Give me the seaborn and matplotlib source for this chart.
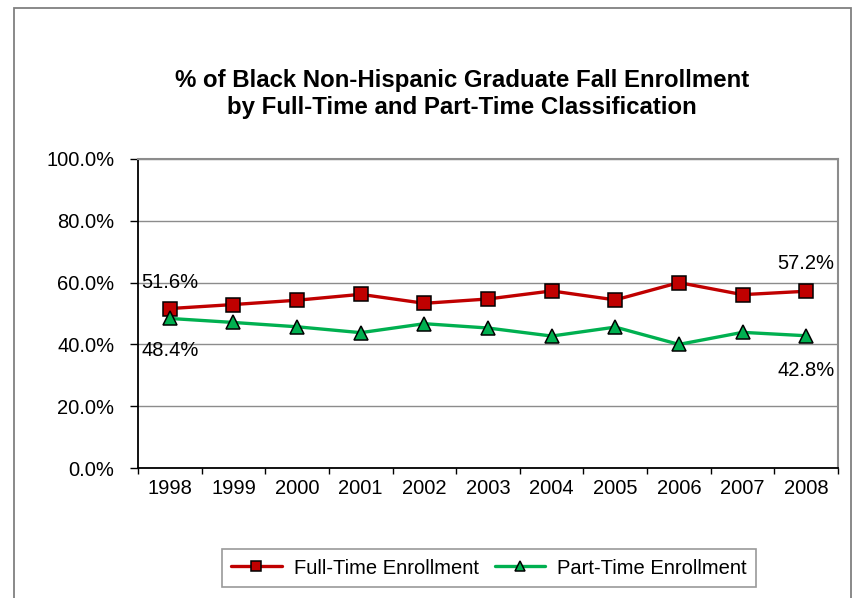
import numpy as np
import pandas as pd
import matplotlib
matplotlib.use("Agg")
import matplotlib.pyplot as plt
import matplotlib.patches as mpatches
from matplotlib.ticker import FuncFormatter, FixedLocator
import seaborn as sns

years = ["1998", "1999", "2000", "2001", "2002", "2003", "2004", "2005", "2006", "2007", "2008"]
full_time = [51.6, 52.9, 54.3, 56.2, 53.3, 54.7, 57.3, 54.4, 60.0, 56.1, 57.2]
part_time = [48.4, 47.1, 45.7, 43.8, 46.7, 45.3, 42.7, 45.6, 40.0, 43.9, 42.8]
series_names = ["Full-Time Enrollment", "Part-Time Enrollment"]
y_ticks = [0, 20, 40, 60, 80, 100]
title = "% of Black Non-Hispanic Graduate Fall Enrollment\nby Full-Time and Part-Time Classification"

sns.set_style("white")
plt.rcParams["font.family"] = ["Liberation Sans", "DejaVu Sans"]
plt.rcParams["text.color"] = "black"
plt.rcParams["xtick.color"] = "black"
plt.rcParams["ytick.color"] = "black"

pos = np.arange(len(years))
df = pd.DataFrame({
    "pos": np.concatenate([pos, pos]),
    "value": full_time + part_time,
    "series": [series_names[0]] * len(years) + [series_names[1]] * len(years),
})

W, H = 860, 598
fig = plt.figure(figsize=(W / 100, H / 100), dpi=100)
ax = fig.add_axes([138 / W, 1 - 468 / H, (838 - 138) / W, (468 - 159) / H])

red = "#C00000"
green = "#00B050"
styles = {
    series_names[0]: dict(color=red, marker="s", ms=9.5),
    series_names[1]: dict(color=green, marker="^", ms=10.5),
}
for name in series_names:
    sub = df[df["series"] == name]
    st = styles[name]
    sns.lineplot(data=sub, x="pos", y="value", ax=ax, color=st["color"], lw=2.4,
                 marker=st["marker"], markersize=st["ms"], markerfacecolor=st["color"],
                 markeredgecolor="black", markeredgewidth=1.1, label=name, legend=False)

ax.set_xlim(-0.5, len(years) - 0.5)
ax.set_ylim(0, 100)
ax.set_xlabel("")
ax.set_ylabel("")

fs = 14.5
ax.yaxis.set_major_locator(FixedLocator(y_ticks))
ax.yaxis.set_major_formatter(FuncFormatter(lambda v, p: f"{v:.1f}%"))
ax.grid(axis="y", color="#8C8C8C", lw=1)
ax.grid(axis="x", visible=False)

ax.set_xticks(pos)
ax.set_xticklabels(years)
ax.set_xticks(np.arange(-0.5, len(years), 1.0), minor=True)
ax.tick_params(axis="x", which="major", length=0, pad=8, labelsize=fs, labelcolor="black")
ax.tick_params(axis="x", which="minor", length=4, width=1, direction="out", color="black", bottom=True)
ax.tick_params(axis="y", which="major", length=6, width=1, direction="out", color="black",
               pad=11, labelsize=fs, left=True, labelcolor="black")

for s in ["left", "bottom"]:
    ax.spines[s].set_color("black")
    ax.spines[s].set_linewidth(1.3)
for s in ["top", "right"]:
    ax.spines[s].set_color("#8C8C8C")
    ax.spines[s].set_linewidth(1.5)
ax.set_axisbelow(True)

# data labels
ax.annotate(f"{full_time[0]:.1f}%", xy=(pos[0], full_time[0]), xytext=(0, 19),
            textcoords="offset points", ha="center", va="center", fontsize=fs)
ax.annotate(f"{part_time[0]:.1f}%", xy=(pos[0], part_time[0]), xytext=(0, -23),
            textcoords="offset points", ha="center", va="center", fontsize=fs)
ax.annotate(f"{full_time[-1]:.1f}%", xy=(pos[-1], full_time[-1]), xytext=(0, 20),
            textcoords="offset points", ha="center", va="center", fontsize=fs)
ax.annotate(f"{part_time[-1]:.1f}%", xy=(pos[-1], part_time[-1]), xytext=(0, -25),
            textcoords="offset points", ha="center", va="center", fontsize=fs)

fig.text(462 / W, 1 - 94 / H, title, ha="center", va="center", fontsize=17.3,
         fontweight="bold", linespacing=1.25, multialignment="center", color="black")

handles, labels = ax.get_legend_handles_labels()
leg = fig.legend(handles, labels, loc="center", bbox_to_anchor=(489 / W, 1 - 568 / H),
                 ncol=2, frameon=True, fancybox=False, fontsize=fs, handlelength=2.5,
                 handletextpad=0.6, columnspacing=0.8, borderpad=0.45, markerscale=0.75)
leg.get_frame().set_edgecolor("#808080")
leg.get_frame().set_linewidth(1.2)

frame = mpatches.Rectangle((14 / W, -0.02), (851 - 14) / W, (H - 8) / H + 0.02,
                           transform=fig.transFigure, fill=False, edgecolor="#808080", lw=1.3)
fig.patches.append(frame)

fig.savefig("out.png", dpi=100)
